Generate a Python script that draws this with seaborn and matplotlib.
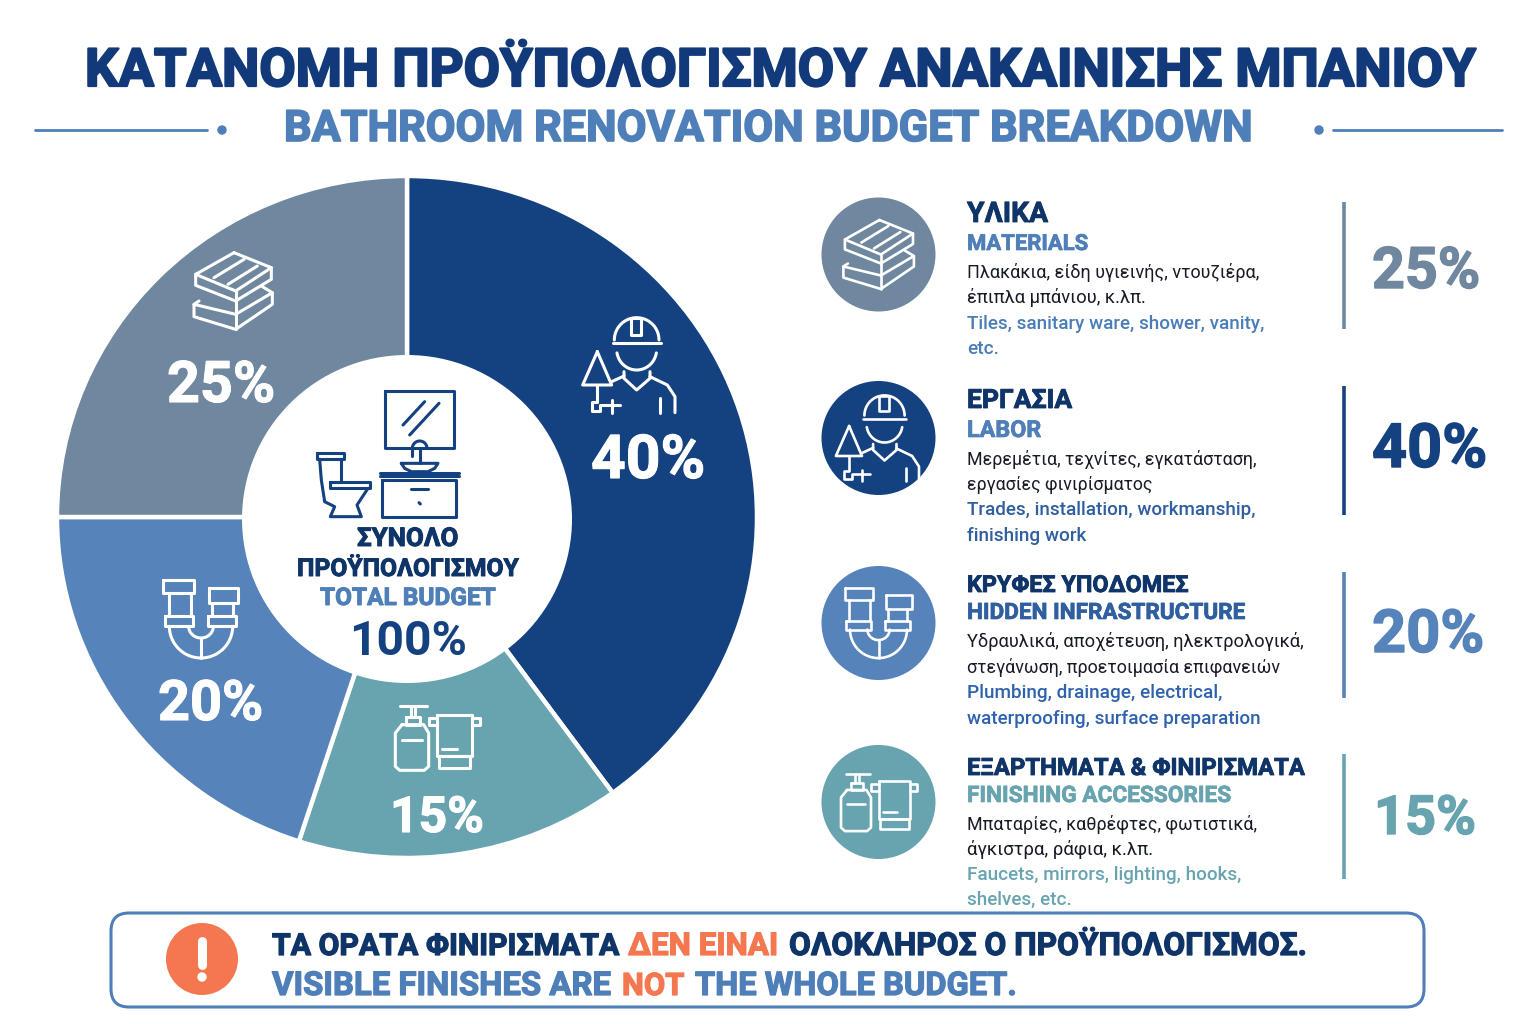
import numpy as np
import matplotlib
matplotlib.use("Agg")
import matplotlib.pyplot as plt
import matplotlib.patheffects as pe
from matplotlib.patches import Circle, Ellipse, FancyBboxPatch
import seaborn as sns

# ---------- data ----------
slice_names = ["LABOR", "FINISHING ACCESSORIES", "HIDDEN INFRASTRUCTURE", "MATERIALS"]
slice_values = [40, 15, 20, 25]
slice_labels = ["40%", "15%", "20%", "25%"]
slice_colors = ["#14417F", "#68A4B0", "#5583BA", "#6F879F"]

title_el = "ΚΑΤΑΝΟΜΗ ΠΡΟΫΠΟΛΟΓΙΣΜΟΥ ΑΝΑΚΑΙΝΙΣΗΣ ΜΠΑΝΙΟΥ"
title_en = "BATHROOM RENOVATION BUDGET BREAKDOWN"
center_lines = ["ΣΥΝΟΛΟ", "ΠΡΟΫΠΟΛΟΓΙΣΜΟΥ", "TOTAL BUDGET", "100%"]

legend_el = ["ΥΛΙΚΑ", "ΕΡΓΑΣΙΑ", "ΚΡΥΦΕΣ ΥΠΟΔΟΜΕΣ", "ΕΞΑΡΤΗΜΑΤΑ & ΦΙΝΙΡΙΣΜΑΤΑ"]
legend_en = ["MATERIALS", "LABOR", "HIDDEN INFRASTRUCTURE", "FINISHING ACCESSORIES"]
legend_desc_el = [
    ["Πλακάκια, είδη υγιεινής, ντουζιέρα,", "έπιπλα μπάνιου, κ.λπ."],
    ["Μερεμέτια, τεχνίτες, εγκατάσταση,", "εργασίες φινιρίσματος"],
    ["Υδραυλικά, αποχέτευση, ηλεκτρολογικά,", "στεγάνωση, προετοιμασία επιφανειών"],
    ["Μπαταρίες, καθρέφτες, φωτιστικά,", "άγκιστρα, ράφια, κ.λπ."],
]
legend_desc_en = [
    ["Tiles, sanitary ware, shower, vanity,", "etc."],
    ["Trades, installation, workmanship,", "finishing work"],
    ["Plumbing, drainage, electrical,", "waterproofing, surface preparation"],
    ["Faucets, mirrors, lighting, hooks,", "shelves, etc."],
]
legend_pct = ["25%", "40%", "20%", "15%"]
legend_colors = ["#6F879F", "#14417F", "#5583BA", "#68A4B0"]
legend_en_colors = ["#4F7FB8", "#4F7FB8", "#2F5F9F", "#68A4B0"]
legend_desc_colors = ["#4A7DB8", "#2F5F9F", "#2F62AE", "#68A4B0"]

callout_el = ["ΤΑ ΟΡΑΤΑ ΦΙΝΙΡΙΣΜΑΤΑ", "ΔΕΝ ΕΙΝΑΙ", "ΟΛΟΚΛΗΡΟΣ Ο ΠΡΟΫΠΟΛΟΓΙΣΜΟΣ."]
callout_en = ["VISIBLE FINISHES ARE", "NOT", "THE WHOLE BUDGET."]

NAVY, MID, ORANGE = "#0F3468", "#4F7FB8", "#F4774F"

# ---------- setup ----------
sns.set_theme(style="white")
palette = sns.color_palette(slice_colors)
BODY = ["Roboto", "DejaVu Sans"]
plt.rcParams["font.family"] = BODY

fig = plt.figure(figsize=(15.36, 10.24), dpi=100, facecolor="white")

# pie axes (slightly flattened, like the reference)
pie_ax = fig.add_axes([57 / 1536, (1024 - 858) / 1024, 700 / 1536, 682 / 1024])
pie_ax.pie(slice_values, colors=palette, startangle=90, counterclock=False,
           radius=1, wedgeprops=dict(edgecolor="white", linewidth=3.2))
pie_ax.set_xlim(-1.0, 1.0)
pie_ax.set_ylim(-1.0, 1.0)
pie_ax.set_aspect("auto")

# overlay in reference pixel coordinates
ax = fig.add_axes([0, 0, 1, 1], facecolor="none")
ax.set_xlim(0, 1536)
ax.set_ylim(1024, 0)
ax.axis("off")
renderer = fig.canvas.get_renderer()


def fit(x0, x1, base, s, color, weight="bold", family=BODY, stroke=0.0):
    """Real text, left at x0, baseline at base, sized to span x0..x1."""
    t = ax.text(x0, base, s, color=color, fontweight=weight, family=family,
                fontsize=20, ha="left", va="baseline")
    w = t.get_window_extent(renderer).width
    t.set_fontsize(20 * (x1 - x0) / w)
    if stroke:
        t.set_path_effects([pe.withStroke(linewidth=stroke, foreground=color)])
    return t


def arc(cx, cy, r, a0, a1, ry=None, n=30):
    """Points of an arc; angles in degrees with y pointing down on screen."""
    a = np.radians(np.linspace(a0, a1, n))
    return list(zip(cx + r * np.cos(a), cy + (ry if ry else r) * np.sin(a)))


def rect(x0, y0, x1, y1):
    return [(x0, y0), (x1, y0), (x1, y1), (x0, y1), (x0, y0)]


def draw(paths, origin, center, scale, cx, cy, color="white", lw=2.2):
    for p in paths:
        p = np.array(p, dtype=float)
        xs = cx + (p[:, 0] / origin - center[0]) * scale
        ys = cy + (p[:, 1] / origin - center[1]) * scale
        ax.plot(xs, ys, color=color, lw=lw, solid_capstyle="round",
                solid_joinstyle="round")


# icons: shapes traced in zoomed-crop units
tile_paths = [
    [(310, 70), (422, 115), (422, 150), (315, 215), (195, 168), (195, 135), (310, 70)],
    [(195, 135), (315, 185), (422, 115)],
    [(315, 185), (315, 215)],
    [(250, 145), (340, 90)],
    [(292, 165), (380, 110)],
    [(205, 215), (190, 225), (190, 262), (315, 300), (425, 225), (425, 190), (395, 172)],
    [(190, 225), (315, 255), (425, 190)],
    [(315, 215), (315, 300)],
]
worker_paths = [
    [(218, 160), (362, 160)],
    arc(290, 150, 67, 180, 360),
    rect(272, 85, 304, 135),
    arc(290, 178, 60, 170, 10, ry=62),
    [(252, 245), (252, 265), (290, 300), (330, 265), (330, 245)],
    [(252, 258), (215, 275)],
    [(330, 260), (382, 285), (405, 320), (405, 368)],
    [(172, 185), (128, 285), (215, 285), (172, 185)],
    [(172, 285), (172, 335), (155, 335), (155, 362), (180, 362), (180, 345), (240, 345)],
    [(215, 330), (215, 368)],
    [(360, 325), (360, 368)],
]
pipe_paths = [
    rect(72, 62, 165, 100), [(88, 100), (88, 170)], [(155, 100), (155, 170)],
    rect(78, 170, 160, 200),
    rect(210, 85, 295, 130), [(218, 130), (218, 170)], [(280, 130), (280, 170)],
    rect(205, 170, 290, 200),
    arc(185, 200, 95, 180, 0, ry=95),
    arc(185, 200, 37, 180, 0, ry=35),
    [(185, 235), (185, 295)],
]
acc_paths = [
    [(780, 440), (860, 440)], [(812, 440), (812, 472)], [(825, 440), (825, 472)],
    rect(798, 472, 838, 495),
    [(785, 495), (850, 495), (865, 520), (865, 620), (852, 632), (778, 632),
     (765, 620), (765, 520), (785, 495)],
    [(785, 542), (845, 542)],
    rect(890, 465, 995, 590), rect(895, 590, 990, 625),
    [(890, 475), (865, 475), (865, 497), (890, 497)],
    [(995, 475), (1018, 475), (1018, 497), (995, 497)],
    [(905, 568), (950, 568)],
]
bath_paths = [
    rect(435, 62, 642, 235),
    [(490, 165), (555, 95)], [(510, 195), (598, 100)],
    arc(540, 235, 22, 180, 360), [(518, 235), (518, 258)], [(540, 240), (540, 280)],
    [(485, 280), (595, 280), (585, 295), (565, 305), (515, 305), (495, 295), (485, 280)],
    [(420, 308), (658, 308)], [(420, 318), (658, 318)], rect(428, 330, 650, 440),
    [(515, 358), (565, 358)], [(538, 398), (542, 402)],
    rect(232, 248, 312, 268),
    [(240, 268), (245, 330), (255, 395), (285, 410), (272, 440), (365, 440), (352, 405), (385, 355)],
    [(305, 268), (305, 332)],
    rect(272, 335, 392, 355),
]
icons = {
    "tile": (tile_paths, 3, (307.0 / 3, 185.0 / 3)),
    "worker": (worker_paths, 3, (270.0 / 3, 225.0 / 3)),
    "pipe": (pipe_paths, 3, (185.0 / 3, 178.0 / 3)),
    "acc": (acc_paths, 3, (890.0 / 3, 535.0 / 3)),
}

# centre of the donut
ax.add_patch(Ellipse((407, 519), 330, 328, facecolor="white", edgecolor="none", zorder=1))
draw(bath_paths, 3, (445.0 / 3, 255.0 / 3), 1.0, 388, 455, color="#14417F", lw=2.2)
fit(357, 458, 546, center_lines[0], NAVY, stroke=0.7)
fit(297, 518, 576, center_lines[1], NAVY, stroke=0.7)
fit(320, 495, 605, center_lines[2], MID, stroke=0.7)
fit(349, 467, 655, center_lines[3], "#14417F")

# pie labels and icons
pie_label_pos = [(591, 705, 478), (390, 484, 832), (158, 263, 720), (167, 275, 402)]
for (x0, x1, b), lab in zip(pie_label_pos, slice_labels):
    fit(x0, x1, b, lab, "white", family=BODY, stroke=0.8)
for key, (x, y) in zip(["worker", "acc", "pipe", "tile"],
                       [(630, 365), (437, 738), (201, 619), (233, 291)]):
    p, o, c = icons[key]
    draw(p, o, c, 1.0, x, y)

# titles
fit(85, 1472, 86, title_el, "#12397A", stroke=1.6)
fit(284, 1250, 141, title_en, MID, stroke=1.2)
ax.plot([35, 207], [130, 130], color=MID, lw=2)
ax.plot([1333, 1502], [130, 130], color=MID, lw=2)
ax.add_patch(Circle((222, 130), 4, color=MID))
ax.add_patch(Circle((1319, 130), 4, color=MID))

# legend rows
circle_y = [254.5, 438, 623, 802]
icon_keys = ["tile", "worker", "pipe", "acc"]
head_b = [222, 408, 592, 775]
head_x1 = [1048, 1072, 1188, 1304]
en_b = [250, 437, 619, 802]
en_x1 = [1088, 1041, 1245, 1231]
de_b = [(278, 303), (465, 490), (647, 673), (830, 855)]
de_x1 = [(1258, 1147), (1256, 1153), (1303, 1280), (1255, 1153)]
dn_b = [(329, 354), (515, 541), (698, 724), (880, 905)]
dn_x1 = [(1265, 999), (1255, 1087), (1222, 1262), (1242, 1072)]
bar_y = [(202, 329), (386, 515), (572, 698), (754, 879)]
pct_x = [(1372, 1480), (1372, 1487), (1372, 1484), (1374, 1476)]
pct_b = [288, 467, 652, 834]

for i in range(4):
    col = legend_colors[i]
    ax.add_patch(Circle((878.5, circle_y[i]), 57, facecolor=col, edgecolor="none"))
    p, o, c = icons[icon_keys[i]]
    draw(p, o, c, 0.9, 878.5, circle_y[i], lw=1.9)
    fit(967, head_x1[i], head_b[i], legend_el[i], NAVY, stroke=0.6)
    fit(967, en_x1[i], en_b[i], legend_en[i], legend_en_colors[i], stroke=0.5)
    for j in range(2):
        fit(967, de_x1[i][j], de_b[i][j], legend_desc_el[i][j], "#161B26", weight="normal", family=BODY)
        fit(967, dn_x1[i][j], dn_b[i][j], legend_desc_en[i][j], legend_desc_colors[i],
            weight="medium", family=BODY)
    ax.plot([1344, 1344], bar_y[i], color=col, lw=2.6, solid_capstyle="butt")
    fit(pct_x[i][0], pct_x[i][1], pct_b[i], legend_pct[i], col, stroke=1.0)

# callout
ax.add_patch(FancyBboxPatch((111, 913), 1313, 94,
                            boxstyle="round,pad=0,rounding_size=18",
                            facecolor="white", edgecolor=MID, linewidth=2.2))
ax.add_patch(Circle((202, 959), 36, facecolor=ORANGE, edgecolor="none"))
ax.plot([202, 202], [941, 965], color="white", lw=6.5, solid_capstyle="round")
ax.add_patch(Circle((202, 977), 4, color="white"))
for (x0, x1), s, c in zip([(272, 618), (628, 778), (789, 1305)], callout_el, [NAVY, ORANGE, NAVY]):
    fit(x0, x1, 955, s, c, stroke=0.9)
for (x0, x1), s, c in zip([(272, 611), (622, 684), (695, 1016)], callout_en, [MID, ORANGE, MID]):
    fit(x0, x1, 995, s, c, stroke=0.9)

fig.savefig("out.png", dpi=100, facecolor="white")
